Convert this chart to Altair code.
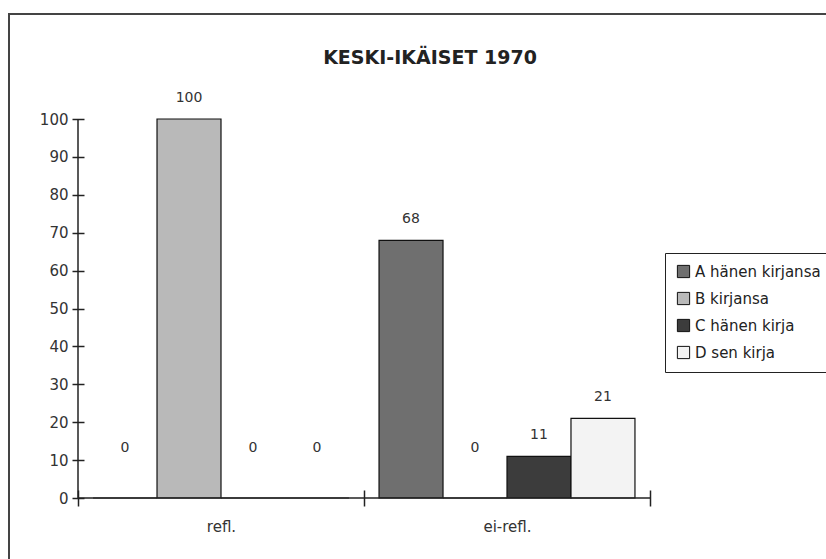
import altair as alt
import pandas as pd

groups = ["refl.", "ei-refl."]
series = ["A hänen kirjansa", "B kirjansa", "C hänen kirja", "D sen kirja"]
refl_values = [0, 100, 0, 0]
eirefl_values = [68, 0, 11, 21]
colors = ["#6f6f6f", "#b9b9b9", "#3c3c3c", "#f3f3f3"]
y_ticks = [0, 10, 20, 30, 40, 50, 60, 70, 80, 90, 100]

rows = []
for g, vals in zip(groups, [refl_values, eirefl_values]):
    for s, v in zip(series, vals):
        rows.append({"group": g, "series": s, "value": v})
df = pd.DataFrame(rows)

FONT = "DejaVu Sans"
W, H = 572, 379

x_axis = alt.Axis(title=None, domain=False, tickBand="extent", tickSize=16, offset=-8,
                  tickColor="#222", tickWidth=1.5, labelAngle=0, labelFontSize=15,
                  labelPadding=13, labelColor="#333", labelFont=FONT)
y_axis = alt.Axis(title=None, domain=False, values=y_ticks, tickSize=12, offset=-6,
                  tickColor="#222", tickWidth=1.5, grid=False, labelFontSize=15,
                  labelPadding=4, labelColor="#333", labelFont=FONT)
x_scale = alt.Scale(paddingInner=0, paddingOuter=0)
xo_scale = alt.Scale(paddingInner=0, paddingOuter=0.235)
y_scale = alt.Scale(domain=[0, 100], nice=False)

def enc_x():
    return alt.X("group:N", sort=groups, scale=x_scale, axis=x_axis)

def enc_xo():
    return alt.XOffset("series:N", sort=series, scale=xo_scale)

def enc_y():
    return alt.Y("value:Q", scale=y_scale, axis=y_axis)

base = alt.Chart(df)

bars = base.mark_bar(stroke="#111", strokeWidth=1.2).encode(
    x=enc_x(), xOffset=enc_xo(), y=enc_y(),
    color=alt.Color("series:N", sort=series,
                    scale=alt.Scale(domain=series, range=colors),
                    legend=alt.Legend(title=None, orient="none", legendX=587, legendY=134,
                                      symbolType="square", symbolSize=150, symbolStrokeColor="#111",
                                      symbolStrokeWidth=1, labelFontSize=15, labelFont=FONT,
                                      labelColor="#222", rowPadding=10, padding=11,
                                      labelOffset=4,
                                      strokeColor="#222", fillColor="white",
                                      labelLimit=300)),
)

labels_nz = base.transform_filter("datum.value > 0").mark_text(
    dy=-21, fontSize=14, font=FONT, color="#333").encode(
    x=enc_x(), xOffset=enc_xo(), y=enc_y(), text="value:Q")

labels_z = base.transform_filter("datum.value == 0").mark_text(
    dy=-50, fontSize=14, font=FONT, color="#333").encode(
    x=enc_x(), xOffset=enc_xo(), y=enc_y(), text="value:Q")

yaxis_line = alt.Chart(pd.DataFrame({"a": [0]})).mark_rule(color="#222", strokeWidth=1.5).encode(
    x=alt.value(0), y=alt.value(0), y2=alt.value(H))
xaxis_line = alt.Chart(pd.DataFrame({"a": [0]})).mark_rule(color="#222", strokeWidth=1.5).encode(
    x=alt.value(0), x2=alt.value(W), y=alt.value(H))
frame = alt.Chart(pd.DataFrame({"a": [0]})).mark_rect(fill=None, stroke="#444", strokeWidth=2).encode(
    x=alt.value(-69), x2=alt.value(760), y=alt.value(-105), y2=alt.value(450))

chart = alt.layer(frame, bars, labels_nz, labels_z, yaxis_line, xaxis_line).properties(
    width=W, height=H,
    background="white",
    padding={"left": 78, "top": 119, "right": 176, "bottom": 61},
    autosize=alt.AutoSizeParams(type="none"),
    title=alt.TitleParams("KESKI-IKÄISET 1970", fontSize=19, font=FONT, fontWeight="bold",
                          color="#222", anchor="middle", dx=66, offset=-55),
).configure_view(stroke="transparent", strokeWidth=0)

chart.save("out.html", embed_options={"renderer": "svg", "actions": False})
